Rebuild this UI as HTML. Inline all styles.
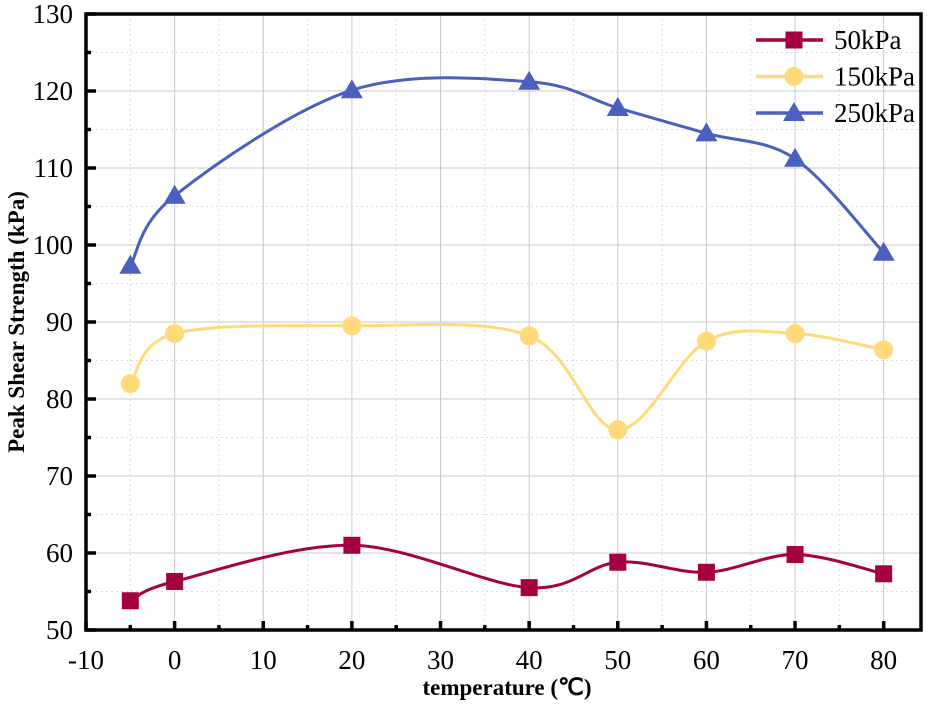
<!DOCTYPE html>
<html><head><meta charset="utf-8"><style>
body{margin:0;background:#fff}
svg text{font-family:"Liberation Serif",serif}
</style></head><body>
<svg id="c" width="932" height="703" xmlns="http://www.w3.org/2000/svg"></svg>
<script>
const temps=[-5,0,20,40,50,60,70,80];
const s50=[53.8,56.3,61.0,55.5,58.8,57.5,59.8,57.3];
const s150=[82.0,88.5,89.5,88.2,76.0,87.5,88.5,86.4];
const s250=[97.3,106.4,120.1,121.2,117.8,114.5,111.2,99.0];
const seriesNames=["50kPa","150kPa","250kPa"];
const xTicks=[-10,0,10,20,30,40,50,60,70,80];
const yTicks=[50,60,70,80,90,100,110,120,130];
const L=86,R=921,T=14,B=630;
const X=v=>L+(v+10)*88.63/10;
const Y=v=>B-(v-50)*(B-T)/80;
const svg=document.getElementById('c');
const NS='http://www.w3.org/2000/svg';
function el(t,a,p){const e=document.createElementNS(NS,t);for(const k in a)e.setAttribute(k,a[k]);(p||svg).appendChild(e);return e;}
for(let v=-5;v<=85;v+=5){const x=X(v);if(x<=L+1||x>=R-1)continue;const g=el('line',{x1:x,x2:x,y1:T,y2:B,stroke:v%10===0?'#c8c8c8':'#dcdcdc','stroke-width':1,'stroke-dasharray':v%10===0?'':'2,3'});}
for(let v=55;v<130;v+=5){const y=Y(v);const g=el('line',{x1:L,x2:R,y1:y,y2:y,stroke:v%10===0?'#c8c8c8':'#dcdcdc','stroke-width':1,'stroke-dasharray':v%10===0?'':'2,3'});}
xTicks.forEach(v=>{const x=X(v);el('line',{x1:x,x2:x,y1:B,y2:B-9,stroke:'#000','stroke-width':3.5});const t=el('text',{x:x,y:B+39,'text-anchor':'middle','font-size':27});t.textContent=v;
 const xm=X(v+5);if(xm<R-2)el('line',{x1:xm,x2:xm,y1:B,y2:B-5,stroke:'#000','stroke-width':3.5});});
yTicks.forEach(v=>{const y=Y(v);el('line',{x1:L,x2:L+10,y1:y,y2:y,stroke:'#000','stroke-width':3.5});const t=el('text',{x:L-13,y:y+9,'text-anchor':'end','font-size':27});t.textContent=v;
 if(v<130)el('line',{x1:L,x2:L+5,y1:Y(v+5),y2:Y(v+5),stroke:'#000','stroke-width':3.5});});
const fr=el('rect',{x:L,y:T,width:R-L,height:B-T,fill:'none',stroke:'#000','stroke-width':3.5});

const xt=el('text',{x:507,y:695,'text-anchor':'middle','font-size':23,'font-weight':'bold'});xt.textContent='temperature (℃)';

const yt=el('text',{x:0,y:0,'text-anchor':'middle','font-size':23,'font-weight':'bold',transform:`translate(24,${(T+B)/2}) rotate(-90)`});yt.textContent='Peak Shear Strength (kPa)';

function spline(pts){let d=`M${pts[0][0]},${pts[0][1]}`;for(let i=0;i<pts.length-1;i++){const p0=pts[i-1]||pts[i],p1=pts[i],p2=pts[i+1],p3=pts[i+2]||p2;d+=` C${p1[0]+(p2[0]-p0[0])/6},${p1[1]+(p2[1]-p0[1])/6} ${p2[0]-(p3[0]-p1[0])/6},${p2[1]-(p3[1]-p1[1])/6} ${p2[0]},${p2[1]}`;}return d;}
function marker(kind,x,y,col,parent){let m;if(kind===0)m=el('rect',{x:x-8.5,y:y-8.5,width:17,height:17,fill:col},parent);else if(kind===1)m=el('circle',{cx:x,cy:y,r:9.5,fill:col},parent);else m=el('polygon',{points:`${x},${y-11} ${x+11},${y+8} ${x-11},${y+8}`,fill:col},parent);return m;}
const cols=['#a5003f','#ffd97a','#4a5fbe'];
[s50,s150,s250].forEach((s,k)=>{const g=el('g',{});
 const pts=temps.map((t,i)=>[X(t),Y(s[i])]);
 el('path',{d:spline(pts),fill:'none',stroke:cols[k],'stroke-width':3},g);
 pts.forEach(p=>{const m=marker(k,p[0],p[1],cols[k],g);});
 const lg=el('g',{});
 const ly=40+k*36.5;el('line',{x1:756,x2:823,y1:ly,y2:ly,stroke:cols[k],'stroke-width':3.5},lg);marker(k,794,ly,cols[k],lg);
 const tx=el('text',{x:834,y:ly+9,'font-size':27},lg);tx.textContent=seriesNames[k];});
</script>
</body></html>
